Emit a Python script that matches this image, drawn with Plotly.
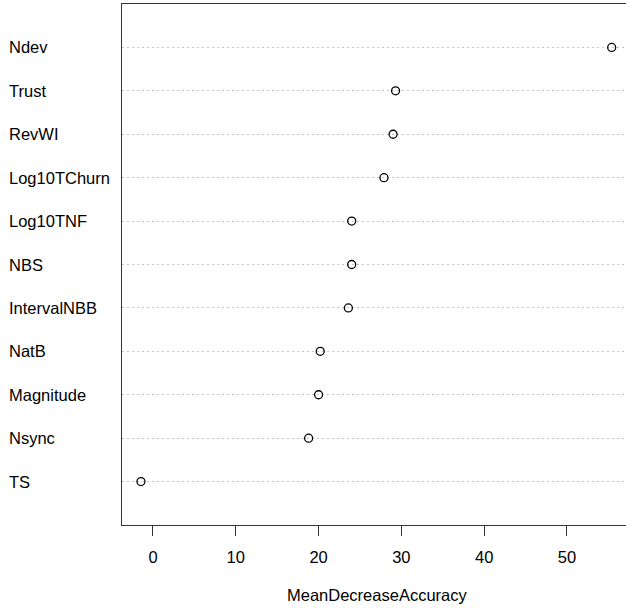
import plotly.graph_objects as go

variables = ["TS", "Nsync", "Magnitude", "NatB", "IntervalNBB", "NBS",
             "Log10TNF", "Log10TChurn", "RevWI", "Trust", "Ndev"]
mean_decrease_accuracy = [-1.45, 18.8, 20.0, 20.2, 23.6, 24.0,
                          24.0, 27.9, 29.0, 29.3, 55.4]
x_ticks = [0, 10, 20, 30, 40, 50]

FONT = "Liberation Sans, Arial, Helvetica, sans-serif"
positions = list(range(1, len(variables) + 1))

fig = go.Figure()
fig.add_trace(go.Scatter(
    x=mean_decrease_accuracy, y=positions, mode="markers",
    marker=dict(symbol="circle-open", size=8, color="black",
                line=dict(width=1.3, color="black")),
    cliponaxis=False, showlegend=False, hoverinfo="skip"))

for pos, name in zip(positions, variables):
    fig.add_annotation(x=0, xref="paper", y=pos, yref="y", text=name,
                       showarrow=False, xanchor="left", yanchor="middle",
                       xshift=-115, font=dict(family=FONT, size=16.5, color="black"))

fig.add_annotation(x=(376.5 - 122) / 504, xref="paper", y=0, yref="paper",
                   yshift=-70, text="MeanDecreaseAccuracy", showarrow=False,
                   xanchor="center", yanchor="middle",
                   font=dict(family=FONT, size=16.5, color="black"))

fig.update_layout(
    width=626, height=608,
    margin=dict(l=122, r=0, t=4, b=83),
    plot_bgcolor="white", paper_bgcolor="white",
    font=dict(family=FONT, size=16.5, color="black"),
    xaxis=dict(range=[-3.74, 57.13], tickvals=x_ticks, ticks="outside",
               ticklen=10, tickwidth=1, tickcolor="#333",
               ticklabelstandoff=7,
               showgrid=False, zeroline=False, showline=True,
               linecolor="#333", linewidth=1.3, mirror=True,
               tickfont=dict(family=FONT, size=16.5, color="black")),
    yaxis=dict(range=[0, 12], tickvals=positions, showticklabels=False,
               ticks="", showgrid=True, gridcolor="#c4c4c4", griddash="2px,3px",
               gridwidth=1, zeroline=False, showline=True, linecolor="#333",
               linewidth=1.3, mirror=False),
)

fig.write_html(
    "out.html",
    config={"displayModeBar": False},
    post_script="document.body.style.margin='0';"
                "document.body.style.overflow='hidden';",
)
